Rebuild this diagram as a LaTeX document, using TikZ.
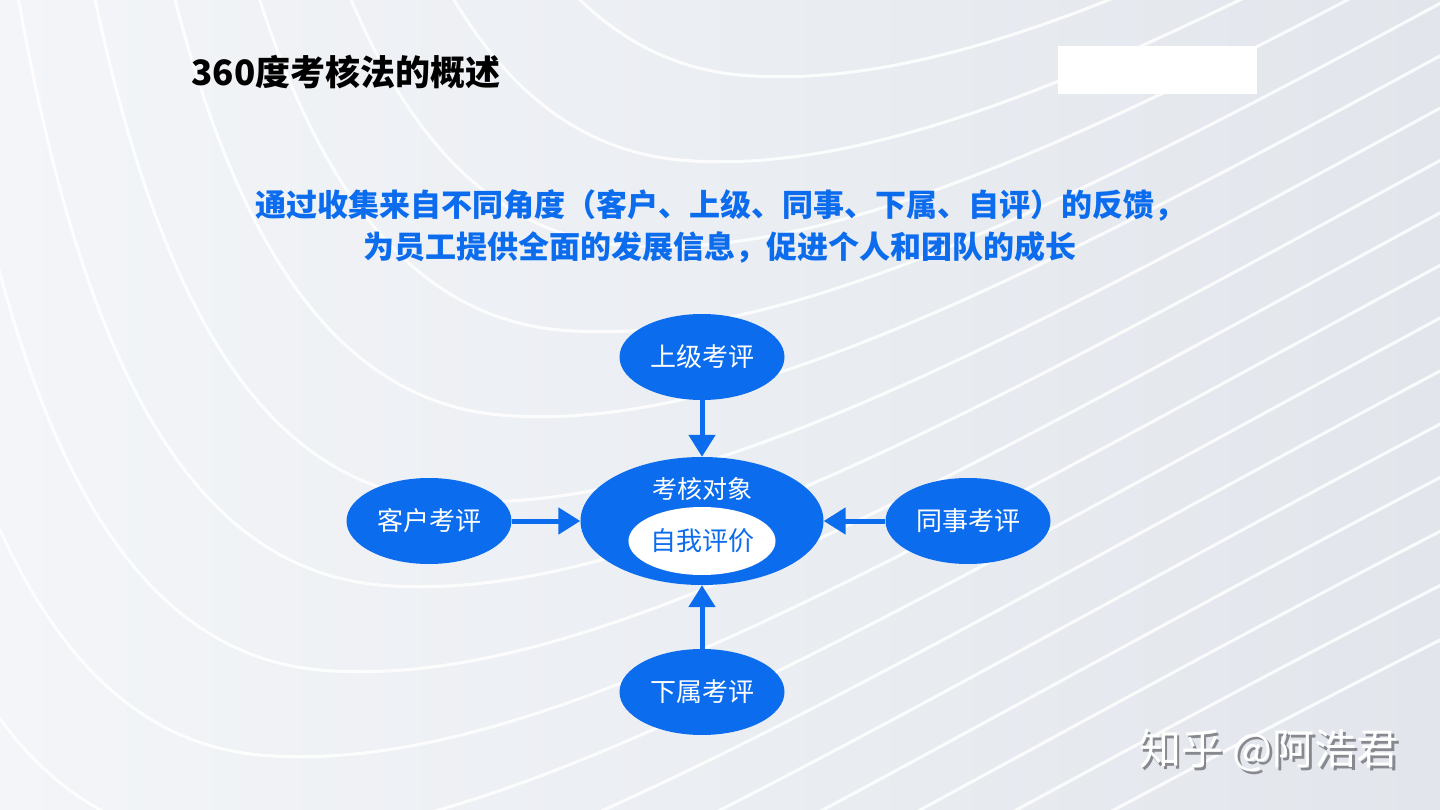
\documentclass[tikz,border=0pt]{standalone}
\usepackage{fontspec}
\setmainfont{Noto Sans CJK SC}
\usetikzlibrary{arrows.meta,positioning,shapes.geometric}
\definecolor{accent}{RGB}{12,108,238}
\definecolor{bgleft}{RGB}{243,245,248}
\definecolor{bgright}{RGB}{226,230,236}
\definecolor{shade}{RGB}{135,137,143}

\begin{document}
\begin{tikzpicture}[x=1pt,y=-1pt,
  evalnode/.style={ellipse,fill=accent,text=white,inner sep=0pt,
    minimum width=165pt,minimum height=86pt,font=\fontsize{26}{30}\selectfont},
  feed/.style={line width=5pt,accent,-{Triangle[length=22pt,width=26pt]}}]
% background
\shade[left color=bgleft,right color=bgright] (0,0) rectangle (1440,810);
\useasboundingbox (0,0) rectangle (1440,810);
\foreach \k in {-6,...,12}{
  \pgfmathsetmacro\dx{-60*\k}
  \pgfmathsetmacro\dy{85*\k}
  \draw[white,line width=3pt,opacity=0.85,shift={(\dx,\dy)}]
    (120,-900) .. controls (180,-300) and (230,300) .. (560,330)
    .. controls (900,360) and (1400,0) .. (2200,-400);
}
% title and logo box
\node[anchor=west,font=\bfseries\fontsize{35}{40}\selectfont] (title) at (188,72) {360度考核法的概述};
\node[fill=white,minimum width=199pt,minimum height=48pt,inner sep=0pt] (logo) at (1157.5,70) {};
% intro text
\node[align=center,text=accent,font=\bfseries\fontsize{31}{42}\selectfont] (intro) at (720,226)
  {通过收集来自不同角度（客户、上级、同事、下属、自评）的反馈，\\为员工提供全面的发展信息，促进个人和团队的成长};
% centre
\node[ellipse,fill=accent,minimum width=243pt,minimum height=128pt,inner sep=0pt] (obj) at (702,521) {};
\node[text=white,font=\fontsize{25}{30}\selectfont] (objlbl) at (702,489) {考核对象};
\node[ellipse,fill=white,text=accent,minimum width=140pt,minimum height=68pt,inner sep=0pt,
  font=\fontsize{26}{30}\selectfont] (self) at (702,541) {自我评价};
% four sources
\node[evalnode] (sup) at (702,357) {上级考评};
\node[evalnode] (cust) at (429,521) {客户考评};
\node[evalnode] (peer) at (968,521) {同事考评};
\node[evalnode] (sub) at (702,692) {下属考评};
\draw[feed] (sup) -- (obj);
\draw[feed] (cust) -- (obj);
\draw[feed] (peer) -- (obj);
\draw[feed] (sub) -- (obj);
% watermark
\node[text=shade,font=\fontsize{42}{46}\selectfont] (markshadow) at (1271.5,753) {知乎 @阿浩君};
\node[text=white,font=\fontsize{42}{46}\selectfont] (mark) at (1269,750) {知乎 @阿浩君};
\end{tikzpicture}
\end{document}
